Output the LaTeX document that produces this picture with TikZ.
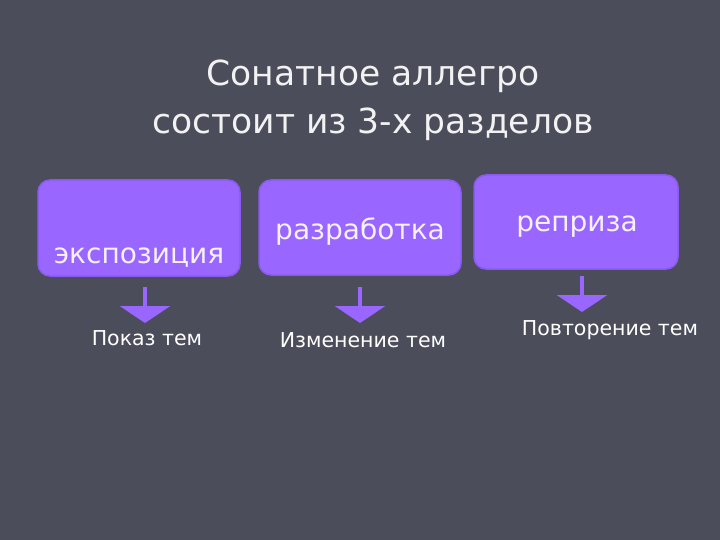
\documentclass[tikz,border=0pt]{standalone}
\usepackage{fontspec}
\setmainfont{DejaVu Sans}
\usetikzlibrary{arrows.meta}
\definecolor{bg}{HTML}{4B4D5B}
\definecolor{boxfill}{HTML}{9966FF}
\definecolor{boxdraw}{HTML}{8A5AEE}
\definecolor{titlecol}{HTML}{F2F2F2}
\definecolor{boxtext}{HTML}{F6F0FF}
\tikzset{
  box/.style={draw=boxdraw, line width=1.5pt, fill=boxfill, rounded corners=12pt},
  boxlabel/.style={text=boxtext, font=\fontsize{28}{32}\selectfont, inner sep=0pt},
  sublabel/.style={text=white, font=\fontsize{20.5}{24}\selectfont, inner sep=0pt},
  downarrow/.style={draw=boxfill, line width=3.5pt, -{Triangle[width=50pt,length=17pt]}},
}
\begin{document}
\begin{tikzpicture}[x=1pt,y=-1pt]
\fill[bg] (0,0) rectangle (720,540);
\useasboundingbox (0,0) rectangle (720,540);
\node[text=titlecol, font=\fontsize{34.5}{48}\selectfont, align=center, inner sep=0pt] (title) at (373,100) {Сонатное аллегро\\состоит из 3-х разделов};
\draw[box] (38,180) rectangle (240,276);
\node[boxlabel] (b1) at (139,258) {экспозиция};
\draw[box] (259,180) rectangle (461,275);
\node[boxlabel] (b2) at (360,232) {разработка};
\draw[box] (474,175) rectangle (678,269);
\node[boxlabel] (b3) at (577,227) {реприза};
\coordinate (a1s) at (145,287);
\coordinate (a1e) at (145,323);
\coordinate (a2s) at (360,287);
\coordinate (a2e) at (360,323);
\coordinate (a3s) at (582,276);
\coordinate (a3e) at (582,312);
\draw[downarrow] (a1s) -- (a1e);
\draw[downarrow] (a2s) -- (a2e);
\draw[downarrow] (a3s) -- (a3e);
\node[sublabel] (l1) at (147,338) {Показ тем};
\node[sublabel] (l2) at (363,340) {Изменение тем};
\node[sublabel] (l3) at (610,330) {Повторение тем};
\end{tikzpicture}
\end{document}
